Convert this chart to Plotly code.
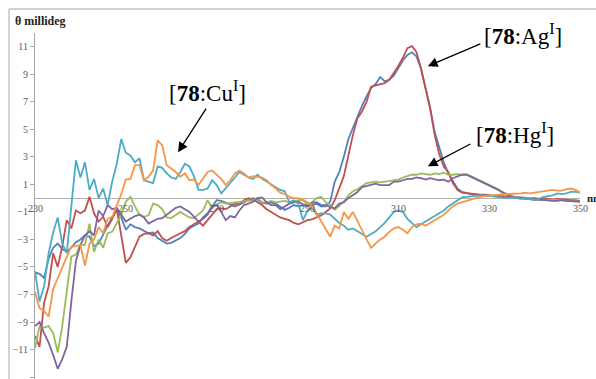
import plotly.graph_objects as go

wavelength = list(range(230, 351))

ag_blue = [
    -5.4, -5.5, -5.8, -4.4, -3.6, -3.3, -3.7, -3.9, -3.6, -3.2,
    -3.0, -2.7, -2.8, -3.5, -3.3, -2.6, -2.0, -1.4, -0.9, -1.4,
    -2.3, -1.9, -2.1, -2.2, -2.4, -2.55, -2.5, -2.9, -3.1, -3.3,
    -3.25, -3.1, -2.9, -2.6, -2.2, -2.0, -1.85, -1.4, -1.1, -0.6,
    -0.15, -0.2, -0.35, -0.5, -0.6, -0.45, -0.3, -0.1, 0.0, -0.1,
    -0.35, -0.4, -0.3, -0.4, -0.6, -0.85, -0.7, -0.5, -0.6, -0.5,
    -0.45, -0.5, -0.4, -0.6, -0.6, -0.25, 1.2, 1.9, 3.0, 4.3,
    5.1, 6.0, 6.7, 7.4, 8.0, 8.3, 8.8, 8.5, 8.6, 8.9,
    9.5, 10.0, 10.4, 10.6, 10.3, 9.4, 8.0, 6.6, 4.8, 3.6,
    2.6, 1.8, 1.2, 0.7, 0.45, 0.35, 0.3, 0.25, 0.2, 0.2,
    0.15, 0.15, 0.1, 0.1, 0.05, 0.05, 0.0, 0.0, -0.05, -0.05,
    -0.1, -0.1, -0.05, -0.1, -0.15, -0.1, -0.15, -0.15, -0.2, -0.2,
    -0.25,
]

ag_red = [
    -10.0, -10.8, -7.6, -6.4, -4.0, -5.0, -3.5, -1.6, -2.2, -0.9,
    -1.1, -0.9, 0.1, -1.1, -1.7, -1.35, -2.1, -1.5, -0.75, -2.6,
    -4.7, -4.3, -3.6, -2.8, -2.6, -2.55, -2.7, -2.4, -2.9, -3.1,
    -2.9, -2.7, -2.55, -2.4, -2.1, -1.9, -1.7, -2.0, -1.6, -1.15,
    -0.8, -0.75, -0.8, -0.6, -0.4, -0.45, -0.15, 0.0, -0.1, -0.3,
    -0.5, -0.8, -1.0, -1.2, -1.4, -1.5, -1.6, -1.8, -1.9, -1.75,
    -1.6, -1.55, -1.4, -1.25, -1.0, -0.75, -0.15, 0.7, 1.6, 3.1,
    4.6, 5.8, 6.3, 7.0, 8.1, 8.2, 8.25, 8.35, 8.6, 9.1,
    9.6, 10.2, 10.9, 11.05, 10.6, 9.4, 7.9, 6.5, 4.6, 3.2,
    2.3, 1.9, 1.1, 0.6, 0.4, 0.35, 0.3, 0.3, 0.25, 0.25,
    0.2, 0.2, 0.15, 0.15, 0.1, 0.1, 0.05, 0.05, 0.0, 0.0,
    0.0, -0.05, 0.0, -0.05, -0.1, -0.05, -0.1, -0.1, -0.15, -0.15,
    -0.2,
]

hg_green = [
    -10.9, -9.3, -9.4, -9.3, -9.8, -11.2, -9.3, -6.9, -4.25, -4.1,
    -3.4, -3.4, -1.85, -3.9, -3.0, -3.6, -2.55, -2.45, -1.85, -1.2,
    -0.25, 0.1, -0.6, -1.2, -1.35, -1.25, -0.4, -0.5, -0.8, -1.4,
    -1.45, -1.2, -1.0, -1.2, -1.4, -1.45, -1.2, -0.9, -0.15, -0.7,
    -0.45, -0.3, -0.4, -0.35, -0.3, -0.25, -0.2, -0.15, -0.15, 0.0,
    -0.3, -0.3, -0.2, -0.3, -0.25, -0.2, -0.3, -0.2, -0.15, -0.15,
    -0.5, -0.3, 0.0, 0.1, -0.3, -0.5, -0.85, -0.55, -0.25, 0.2,
    0.5, 0.65, 0.9, 1.1, 1.15, 1.2, 1.15, 1.2, 1.2, 1.3,
    1.35, 1.5, 1.6, 1.7, 1.7, 1.8, 1.75, 1.7, 1.8, 1.75,
    1.85, 1.7, 1.7, 1.75, 1.7, 1.75, 1.6, 1.45, 1.3, 1.15,
    1.0, 0.85, 0.65, 0.45, 0.3, 0.15, 0.05, 0.0, 0.0, 0.0,
    -0.1, -0.15, -0.1, -0.1, -0.15, -0.15, -0.15, -0.2, -0.2, -0.25,
    -0.25,
]

hg_purple = [
    -9.3, -9.0, -9.8, -10.5, -11.4, -12.4, -11.7, -10.8, -7.5, -4.6,
    -3.4, -2.7, -2.4, -2.7, -0.9, -1.3, -0.5, -0.8, -0.7, -1.2,
    -1.7, -1.5, -1.3, -1.2, -1.4, -1.85, -1.7, -1.5, -1.45, -1.2,
    -0.95, -0.7, -0.6, -0.8, -1.0, -1.35, -1.7, -1.5, -1.2, -0.6,
    -0.5, -1.0, -1.6, -1.3, -1.4, -0.9, -0.5, -0.4, -0.25, 0.0,
    0.05, -0.3, -0.5, -0.5, -0.8, -0.6, -0.4, -0.3, -0.25, -0.45,
    -0.6, -0.35, -0.3, -0.5, -0.5, -0.65, -0.75, -0.4, -0.3, 0.0,
    0.2, 0.45, 0.8, 0.9, 1.0, 1.05, 0.95, 0.95, 0.95, 1.2,
    1.2, 1.3, 1.4, 1.4, 1.5, 1.45, 1.35, 1.45, 1.4, 1.3,
    1.35, 1.2, 1.45, 1.6, 1.7, 1.7, 1.55, 1.4, 1.25, 1.1,
    0.95, 0.8, 0.6, 0.4, 0.25, 0.1, 0.05, 0.0, -0.05, -0.05,
    -0.1, -0.1, -0.15, -0.15, -0.2, -0.2, -0.15, -0.2, -0.2, -0.25,
    -0.25,
]

cu_teal = [
    -5.3, -7.5, -6.4, -4.0, -2.5, -1.4, -3.3, -4.0, -0.6, 2.75,
    1.5, 2.6, 0.6, 1.4, 0.0, 0.7, -0.5, 1.2, 2.5, 4.3,
    3.3, 3.1, 2.6, 2.9, 1.3, 1.2, 1.1, 2.3, 2.2, 1.8,
    1.5, 1.4, 1.9, 2.5, 2.3, 1.6, 0.6, 0.6, 0.7, 1.3,
    0.95, 0.35, 0.7, 1.1, 1.5, 1.9, 1.7, 1.5, 1.4, 1.7,
    1.4, 1.2, 1.0, 0.8, 0.6, 0.5, -0.3, -0.15, -0.4, -1.6,
    -0.9, -0.7, -1.2, -1.1, -1.1, -1.2, -1.5, -1.8, -2.0, -2.3,
    -2.2, -2.4, -2.55, -2.8, -2.6, -2.4, -2.1, -1.8, -1.4, -1.0,
    -0.9, -1.0, -1.5, -1.8, -2.1, -1.9, -1.7, -1.5, -1.35, -1.1,
    -0.9, -0.6, -0.4, -0.2, 0.05, 0.1, 0.15, 0.2, 0.2, 0.2,
    0.15, 0.1, 0.1, 0.05, 0.0, 0.05, 0.0, -0.05, 0.0, -0.1,
    -0.15, -0.05, 0.1, 0.15, 0.2, 0.35, 0.3, 0.35, 0.45, 0.45,
    0.4,
]

cu_orange = [
    -6.8, -8.0, -8.2, -8.6, -6.6, -5.8, -5.0, -4.2, -3.5, -3.5,
    -3.4, -4.9, -3.3, -3.0, -2.1, -2.55, -1.5, -1.35, -0.5, 0.3,
    1.35, 1.4, 2.4, 2.4, 1.3, 1.55, 2.0, 4.2, 3.85, 2.4,
    2.15, 1.9, 1.55, 1.8, 1.3, 1.35, 0.95, 1.4, 1.9, 2.0,
    1.7, 1.4, 0.95, 1.3, 1.8, 2.0, 1.8, 1.5, 1.6, 1.55,
    1.5, 1.3, 0.95, 0.7, 0.4, 0.3, 0.1, 0.0, 0.0, -0.1,
    -0.3, -0.5, -1.1, -1.7, -2.2, -2.8, -2.0, -2.2, -1.0, -1.5,
    -1.0, -1.7, -2.3, -3.0, -3.6, -3.3, -3.0, -2.8, -2.45, -2.2,
    -2.1, -2.3, -2.55, -2.1, -1.9, -1.85, -2.0, -1.8, -1.6, -1.4,
    -1.2, -0.9, -0.6, -0.4, -0.3, -0.15, -0.05, 0.0, 0.1, 0.15,
    0.2, 0.25, 0.25, 0.3, 0.3, 0.3, 0.35, 0.35, 0.4, 0.35,
    0.4, 0.45, 0.5, 0.55, 0.6, 0.55, 0.55, 0.65, 0.7, 0.6,
    0.4,
]

series = [
    ("78:Ag(I) a", ag_blue, "#4F81BD"),
    ("78:Ag(I) b", ag_red, "#C0504D"),
    ("78:Hg(I) a", hg_green, "#9BBB59"),
    ("78:Hg(I) b", hg_purple, "#8064A2"),
    ("78:Cu(I) a", cu_teal, "#4BACC6"),
    ("78:Cu(I) b", cu_orange, "#F79646"),
]

x_tick_vals = [230, 250, 270, 290, 310, 330, 350]
y_tick_vals = [-13, -11, -9, -7, -5, -3, -1, 1, 3, 5, 7, 9, 11]

labels = [
    # text, label x, label y, arrow head x, arrow head y, ax, ay
    ("[<b>78</b>:Cu<sup>I</sup>]", 267.9, 7.77, 261.5, 3.34, 29, -45),
    ("[<b>78</b>:Ag<sup>I</sup>]", 337.4, 11.9, 316.5, 9.59, 54, -23),
    ("[<b>78</b>:Hg<sup>I</sup>]", 335.7, 4.72, 316.5, 2.32, 44, -23),
]

SERIF = "Liberation Serif, Times New Roman, serif"

fig = go.Figure()
for name, vals, color in series:
    fig.add_trace(go.Scatter(x=wavelength, y=vals, mode="lines", name=name,
                             line=dict(color=color, width=1.8), hoverinfo="skip"))

W, H = 596, 379
L, R, T, B = 35, 16, 33, 0
pw, ph = W - L - R, H - T - B

annotations = []
for v in x_tick_vals:
    annotations.append(dict(x=v, y=0, xref="x", yref="y", text=str(v), showarrow=False,
                            yanchor="top", yshift=-3,
                            font=dict(family=SERIF, size=10, color="#595959")))
annotations.append(dict(x=(585 - L) / pw, y=0, xref="paper", yref="y", text="<b>nm</b>",
                        showarrow=False, xanchor="left", yanchor="middle",
                        font=dict(family=SERIF, size=11, color="#222")))
annotations.append(dict(x=(13 - L) / pw, y=(H - 21) / ph, xref="paper", yref="paper",
                        text="<b>θ millideg</b>", showarrow=False, xanchor="left",
                        yanchor="middle", font=dict(family=SERIF, size=12, color="#222")))
for text, lx, ly, hx, hy, ax, ay in labels:
    annotations.append(dict(x=lx, y=ly, xref="x", yref="y", text=text, showarrow=False,
                            font=dict(family=SERIF, size=23, color="black")))
    annotations.append(dict(x=hx, y=hy, xref="x", yref="y", text="", showarrow=True,
                            ax=ax, ay=ay, arrowhead=2, arrowsize=1.5, arrowwidth=1.3,
                            arrowcolor="black", standoff=0, startstandoff=0))

frame_x0 = (9 - L) / pw
frame_x1 = (610 - L) / pw
frame_y0 = -0.2
frame_y1 = (H - 9) / ph

fig.update_layout(
    width=W, height=H,
    margin=dict(l=L, r=R, t=T, b=B, autoexpand=False),
    plot_bgcolor="white", paper_bgcolor="white",
    showlegend=False,
    xaxis=dict(range=[230, 350], showgrid=False, zeroline=False, showline=False,
               showticklabels=False, ticks=""),
    yaxis=dict(range=[-13.14, 12.0], tickvals=y_tick_vals, showgrid=False,
               showline=True, linecolor="#a6a6a6", linewidth=1,
               ticks="outside", ticklen=4, tickcolor="#a6a6a6",
               zeroline=True, zerolinecolor="#b0b0b0", zerolinewidth=1,
               tickfont=dict(family=SERIF, size=10, color="#595959")),
    annotations=annotations,
    shapes=[
        dict(type="line", xref="paper", yref="paper", x0=frame_x0, x1=frame_x1,
             y0=frame_y1, y1=frame_y1, line=dict(color="#a6a6a6", width=1), layer="above"),
        dict(type="line", xref="paper", yref="paper", x0=frame_x0, x1=frame_x0,
             y0=frame_y0, y1=frame_y1, line=dict(color="#a6a6a6", width=1), layer="above"),
    ],
)

fig.write_html("out.html", config={"displayModeBar": False},
               post_script="document.body.style.margin='0';")
